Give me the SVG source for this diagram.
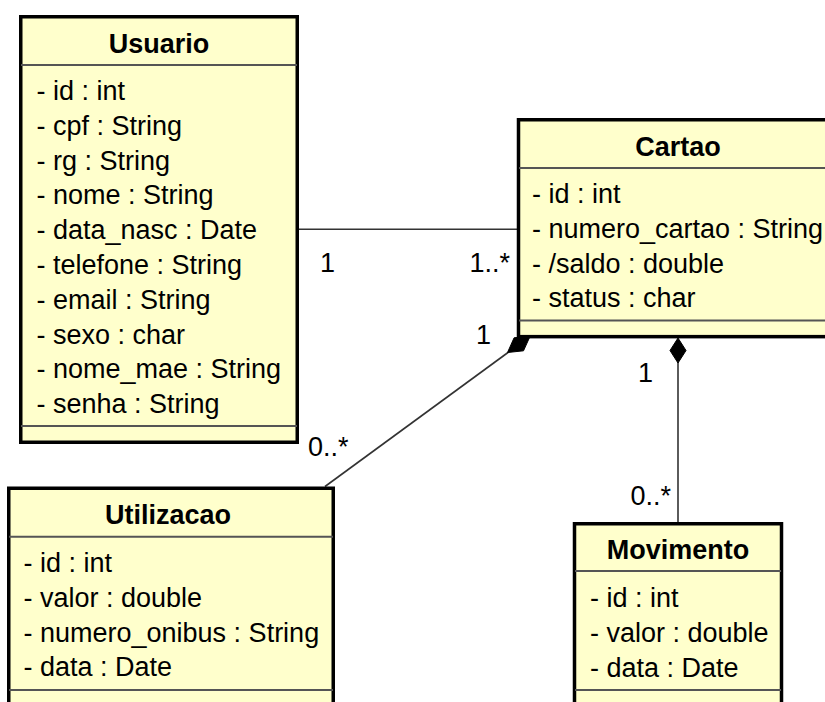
<svg xmlns="http://www.w3.org/2000/svg" width="825" height="702" viewBox="0 0 825 702">
<style>
.box{fill:#FFFFCC;stroke:#000;stroke-width:3.5}
.sep{stroke:#555;stroke-width:2}
.t{font-family:"Liberation Sans",Arial,sans-serif;font-size:27px;fill:#000}
.title{font-weight:bold;text-anchor:middle}
.conn{stroke:#333;stroke-width:1.6;fill:none}
.dia{fill:#000;stroke:#000;stroke-width:1}
.end{text-anchor:end}
</style>
<rect width="825" height="702" fill="#fff"/>
<g id="connectors">
<line class="conn" x1="299" y1="229.3" x2="518" y2="229.3"/>
<line class="conn" x1="325" y1="486.5" x2="508" y2="352.5"/>
<polygon class="dia" points="507.5,352.5 523.5,350.8 530.2,336 514.1,337.8"/>
<line class="conn" x1="678" y1="362" x2="678" y2="523"/>
<polygon class="dia" points="678,338 686,350.5 678,363 670,350.5"/>
<text class="t" x="320" y="272">1</text>
<text class="t end" x="510" y="272">1..*</text>
<text class="t" x="476" y="344">1</text>
<text class="t" x="308" y="456">0..*</text>
<text class="t" x="638" y="382">1</text>
<text class="t end" x="671" y="505">0..*</text>
</g>
<g id="Usuario">
<rect class="box" x="20.75" y="16.75" width="276.5" height="425.5"/>
<line class="sep" x1="21" y1="65" x2="297" y2="65"/>
<line class="sep" x1="21" y1="426" x2="297" y2="426"/>
<text class="t title" x="159" y="53">Usuario</text>
<text class="t" x="36.5" y="100">- id : int</text>
<text class="t" x="36.5" y="134.8">- cpf : String</text>
<text class="t" x="36.5" y="169.6">- rg : String</text>
<text class="t" x="36.5" y="204.4">- nome : String</text>
<text class="t" x="36.5" y="239.2">- data_nasc : Date</text>
<text class="t" x="36.5" y="274">- telefone : String</text>
<text class="t" x="36.5" y="308.8">- email : String</text>
<text class="t" x="36.5" y="343.6">- sexo : char</text>
<text class="t" x="36.5" y="378.4">- nome_mae : String</text>
<text class="t" x="36.5" y="413.2">- senha : String</text>
</g>
<g id="Cartao">
<rect class="box" x="518.5" y="119.75" width="400" height="216.9"/>
<line class="sep" x1="519" y1="168" x2="825" y2="168"/>
<line class="sep" x1="519" y1="320.4" x2="825" y2="320.4"/>
<text class="t title" x="678" y="156">Cartao</text>
<text class="t" x="532" y="203">- id : int</text>
<text class="t" x="532" y="237.8">- numero_cartao : String</text>
<text class="t" x="532" y="272.6">- /saldo : double</text>
<text class="t" x="532" y="307.4">- status : char</text>
</g>
<g id="Utilizacao">
<rect class="box" x="8.75" y="488.25" width="324.5" height="240"/>
<line class="sep" x1="9" y1="536.7" x2="333" y2="536.7"/>
<line class="sep" x1="9" y1="690" x2="333" y2="690"/>
<text class="t title" x="168" y="524">Utilizacao</text>
<text class="t" x="23.5" y="572">- id : int</text>
<text class="t" x="23.5" y="606.8">- valor : double</text>
<text class="t" x="23.5" y="641.6">- numero_onibus : String</text>
<text class="t" x="23.5" y="676.4">- data : Date</text>
</g>
<g id="Movimento">
<rect class="box" x="574.5" y="523.75" width="207" height="240"/>
<line class="sep" x1="575" y1="571" x2="781" y2="571"/>
<line class="sep" x1="575" y1="690" x2="781" y2="690"/>
<text class="t title" x="678" y="559">Movimento</text>
<text class="t" x="590" y="607">- id : int</text>
<text class="t" x="590" y="641.8">- valor : double</text>
<text class="t" x="590" y="676.6">- data : Date</text>
</g>
</svg>
